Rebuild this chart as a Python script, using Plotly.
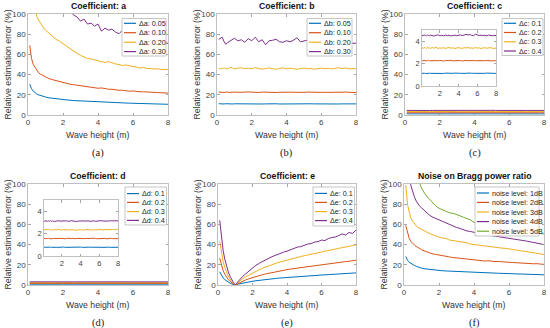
import plotly.graph_objects as go

# ---------------- data ----------------
wave_height = [0.1, 0.2, 0.3, 0.4, 0.5, 0.6, 0.7, 0.8, 0.9, 1.0,
               1.2, 1.4, 1.6, 1.8, 2.0, 2.2, 2.4, 2.6, 2.8, 3.0,
               3.2, 3.4, 3.6, 3.8, 4.0, 4.2, 4.4, 4.6, 4.8, 5.0,
               5.2, 5.4, 5.6, 5.8, 6.0, 6.2, 6.4, 6.6, 6.8, 7.0,
               7.2, 7.4, 7.6, 7.8, 8.0]

# Coefficient a
a_005 = [30.5, 26.0, 23.6, 22.0, 20.8, 20.0, 19.3, 18.7, 18.2, 17.8,
         17.0, 16.5, 16.0, 15.5, 15.1, 14.8, 14.6, 14.3, 14.1, 13.8,
         13.6, 13.4, 13.2, 13.0, 12.8, 12.7, 12.5, 12.4, 12.3, 12.1,
         12.0, 11.9, 11.8, 11.7, 11.6, 11.5, 11.4, 11.3, 11.2, 11.1,
         11.0, 10.9, 10.8, 10.7, 10.6]
a_010 = [69.0, 56.0, 50.0, 47.0, 44.0, 42.0, 40.5, 39.5, 38.5, 37.5,
         36.0, 35.0, 34.0, 33.0, 32.0, 31.5, 30.5, 30.0, 29.5, 29.5,
         28.5, 28.0, 28.0, 27.0, 26.5, 26.8, 26.0, 25.5, 25.5, 24.8,
         24.5, 24.5, 24.0, 23.5, 23.8, 23.2, 23.0, 23.0, 22.6, 22.5,
         22.4, 22.2, 22.0, 22.0, 21.7]
a_020 = [150, 130, 118, 106, 98, 94, 91, 88, 86, 84,
         81, 78, 75, 73, 70.5, 68, 66, 63, 61, 59,
         57.5, 56, 55.5, 54.5, 53.5, 53, 52, 53, 51.5, 50.5,
         50, 49, 49.5, 48.5, 48, 47.5, 46.5, 47, 46, 46,
         45.5, 45.8, 45, 45.2, 45]
a_030 = [220, 200, 188, 178, 170, 163, 157, 152, 147, 143,
         135, 128, 122, 117, 112, 108, 104, 99, 97, 93,
         95, 90, 91, 88, 90, 83, 86, 84, 85, 82,
         80.5, 84, 79, 80, 77, 76, 75.5, 77, 74, 75,
         73.5, 74, 72, 71.5, 71]

# Coefficient b
b_005 = [11.2, 11.0, 11.1, 10.9, 11.2, 11.0, 11.1, 11.0, 10.9, 11.1,
         11.0, 11.2, 11.0, 10.9, 11.1, 11.0, 11.1, 10.9, 11.0, 11.2,
         11.0, 11.1, 10.9, 11.0, 11.1, 11.0, 11.2, 11.0, 10.9, 11.1,
         11.0, 11.1, 11.0, 10.9, 11.1, 11.0, 11.2, 11.0, 11.1, 10.9,
         11.0, 11.1, 11.0, 11.1, 11.0]
b_010 = [22.6, 22.3, 22.7, 22.4, 22.5, 22.8, 22.3, 22.6, 22.4, 22.7,
         22.5, 22.3, 22.6, 22.8, 22.4, 22.5, 22.3, 22.7, 22.5, 22.4,
         22.6, 22.3, 22.5, 22.7, 22.4, 22.6, 22.5, 22.3, 22.6, 22.4,
         22.7, 22.5, 22.3, 22.6, 22.4, 22.5, 22.8, 22.4, 22.6, 22.3,
         22.5, 22.7, 22.4, 22.3, 22.2]
b_020 = [45.5, 46.2, 45.8, 46.8, 46.0, 45.5, 46.5, 47.2, 46.3, 45.6,
         46.4, 46.8, 45.9, 46.3, 45.7, 46.9, 46.1, 45.4, 46.0, 46.6,
         45.8, 45.3, 46.2, 46.7, 45.6, 46.3, 45.9, 45.2, 46.0, 46.5,
         45.7, 46.1, 45.4, 45.9, 46.4, 45.8, 46.2, 45.6, 46.0, 46.8,
         45.9, 46.5, 45.7, 46.1, 46.0]
b_030 = [75, 76, 77, 73, 70, 71.5, 72.5, 74, 75, 76,
         73.5, 74.5, 72, 75.5, 73.5, 77, 72.5, 74.5, 69.5, 73.5,
         74, 75, 72.5, 72, 73.5, 72.5, 74, 76.5, 72.5, 73,
         74, 72.5, 73.5, 74.5, 73, 74, 72.5, 73.5, 74, 73,
         74.5, 73, 72.5, 71, 71]

# Coefficient c
c_01 = [1.13, 1.15, 1.12, 1.14, 1.11, 1.13, 1.16, 1.12, 1.14, 1.13,
        1.12, 1.15, 1.13, 1.11, 1.14, 1.13, 1.12, 1.15, 1.13, 1.14,
        1.12, 1.13, 1.15, 1.12, 1.14, 1.13, 1.11, 1.14, 1.13, 1.15,
        1.12, 1.14, 1.13, 1.12, 1.15, 1.13, 1.14, 1.12, 1.13, 1.15,
        1.13, 1.12, 1.14, 1.13, 1.12]
c_02 = [2.27, 2.24, 2.29, 2.25, 2.28, 2.23, 2.27, 2.30, 2.25, 2.26,
        2.28, 2.24, 2.27, 2.25, 2.29, 2.26, 2.23, 2.28, 2.25, 2.27,
        2.30, 2.24, 2.26, 2.28, 2.25, 2.27, 2.23, 2.26, 2.29, 2.25,
        2.27, 2.24, 2.28, 2.26, 2.25, 2.29, 2.24, 2.27, 2.26, 2.28,
        2.25, 2.27, 2.24, 2.26, 2.25]
c_03 = [3.42, 3.36, 3.40, 3.45, 3.35, 3.39, 3.44, 3.37, 3.41, 3.36,
        3.43, 3.38, 3.46, 3.35, 3.40, 3.37, 3.42, 3.36, 3.39, 3.44,
        3.37, 3.41, 3.35, 3.40, 3.43, 3.38, 3.36, 3.42, 3.39, 3.45,
        3.37, 3.40, 3.36, 3.44, 3.38, 3.41, 3.35, 3.39, 3.42, 3.37,
        3.40, 3.43, 3.36, 3.39, 3.38]
c_04 = [4.53, 4.48, 4.56, 4.50, 4.52, 4.47, 4.55, 4.51, 4.49, 4.54,
        4.50, 4.46, 4.53, 4.57, 4.49, 4.52, 4.48, 4.55, 4.50, 4.53,
        4.47, 4.51, 4.54, 4.49, 4.52, 4.56, 4.50, 4.53, 4.61, 4.55,
        4.60, 4.52, 4.49, 4.63, 4.58, 4.51, 4.54, 4.50, 4.53, 4.48,
        4.55, 4.51, 4.49, 4.53, 4.50]

# Coefficient d
d_01 = [0.78, 0.79, 0.77, 0.78, 0.80, 0.77, 0.78, 0.79, 0.77, 0.78,
        0.79, 0.78, 0.77, 0.79, 0.78, 0.80, 0.77, 0.78, 0.79, 0.78,
        0.77, 0.79, 0.78, 0.78, 0.80, 0.77, 0.79, 0.78, 0.77, 0.79,
        0.78, 0.79, 0.77, 0.78, 0.80, 0.78, 0.77, 0.79, 0.78, 0.79,
        0.77, 0.78, 0.79, 0.78, 0.78]
d_02 = [1.57, 1.54, 1.58, 1.55, 1.57, 1.59, 1.54, 1.56, 1.58, 1.55,
        1.57, 1.53, 1.56, 1.58, 1.55, 1.57, 1.54, 1.59, 1.56, 1.55,
        1.58, 1.54, 1.57, 1.56, 1.53, 1.58, 1.55, 1.57, 1.54, 1.56,
        1.59, 1.55, 1.57, 1.54, 1.56, 1.58, 1.55, 1.57, 1.53, 1.56,
        1.58, 1.55, 1.54, 1.57, 1.55]
d_03 = [2.36, 2.31, 2.38, 2.33, 2.35, 2.40, 2.32, 2.36, 2.34, 2.30,
        2.37, 2.33, 2.39, 2.35, 2.31, 2.36, 2.34, 2.38, 2.32, 2.35,
        2.33, 2.37, 2.30, 2.34, 2.36, 2.31, 2.35, 2.33, 2.37, 2.32,
        2.30, 2.34, 2.36, 2.33, 2.38, 2.35, 2.32, 2.36, 2.34, 2.31,
        2.35, 2.37, 2.33, 2.39, 2.34]
d_04 = [3.13, 3.10, 3.15, 3.12, 3.09, 3.14, 3.11, 3.16, 3.10, 3.13,
        3.08, 3.12, 3.15, 3.11, 3.13, 3.09, 3.14, 3.12, 3.10, 3.15,
        3.11, 3.13, 3.08, 3.12, 3.14, 3.10, 3.13, 3.11, 3.15, 3.09,
        3.12, 3.14, 3.10, 3.13, 3.11, 3.16, 3.12, 3.10, 3.14, 3.12,
        3.15, 3.11, 3.13, 3.16, 3.12]

# Coefficient e
e_01 = [13.0, 9.3, 7.0, 5.2, 3.8, 2.7, 1.8, 1.05, 0.45, 0.05,
        1.0, 1.8, 2.5, 3.1, 3.7, 4.2, 4.7, 5.1, 5.5, 5.9,
        6.3, 6.6, 6.9, 7.2, 7.5, 7.8, 8.1, 8.3, 8.6, 8.8,
        9.1, 9.3, 9.5, 9.7, 9.9, 10.1, 10.3, 10.5, 10.7, 10.9,
        11.1, 11.3, 11.5, 11.7, 12.0]
e_02 = [26.5, 19.0, 14.0, 10.5, 7.7, 5.4, 3.6, 2.1, 0.9, 0.1,
        2.0, 3.6, 5.0, 6.2, 7.4, 8.4, 9.4, 10.3, 11.1, 11.9,
        12.6, 13.3, 14.0, 14.6, 15.2, 15.8, 16.3, 16.9, 17.4, 17.9,
        18.4, 18.9, 19.3, 19.8, 20.2, 20.6, 21.1, 21.5, 21.9, 22.3,
        22.7, 23.1, 23.5, 23.9, 24.5]
e_03 = [43.5, 31.0, 23.0, 17.0, 12.5, 8.8, 5.8, 3.4, 1.5, 0.1,
        3.2, 5.8, 8.0, 10.0, 12.0, 13.8, 15.3, 16.8, 18.2, 19.5,
        20.6, 21.7, 22.8, 23.8, 24.8, 25.6, 26.5, 27.5, 28.2, 29.0,
        29.8, 30.5, 31.3, 32.0, 32.8, 33.5, 34.0, 34.8, 35.5, 36.3,
        37.0, 37.5, 38.3, 39.0, 39.8]
e_04 = [64.0, 45.0, 34.0, 25.0, 18.5, 13.0, 8.5, 5.0, 2.3, 0.2,
        4.5, 8.0, 11.0, 14.0, 17.0, 19.5, 21.5, 23.5, 25.5, 27.0,
        28.5, 30.0, 31.0, 32.5, 33.5, 35.0, 36.0, 37.5, 38.0, 39.5,
        40.5, 41.0, 42.5, 43.0, 44.5, 44.0, 46.0, 47.0, 47.5, 49.0,
        50.5, 49.5, 52.0, 51.0, 54.5]

# Noise on Bragg power ratio
n_1db = [28.3, 24.5, 22.5, 21.2, 20.2, 19.3, 18.5, 17.8, 17.2, 16.7,
         16.0, 15.5, 15.1, 14.7, 14.4, 14.1, 13.9, 13.7, 13.5, 13.3,
         13.1, 12.9, 12.8, 12.6, 12.5, 12.3, 12.2, 12.1, 12.0, 11.8,
         11.7, 11.6, 11.5, 11.4, 11.3, 11.2, 11.0, 10.9, 10.8, 10.7,
         10.6, 10.5, 10.4, 10.3, 10.1]
n_2db = [59, 51, 46, 43, 41, 39.5, 38.2, 37, 36, 35,
         33.5, 32, 31, 30.3, 29.5, 29, 28.3, 27.8, 27.2, 26.8,
         26.3, 25.5, 25.8, 24.8, 24.5, 24.6, 24.0, 23.8, 24.0, 23.5,
         23.2, 23.3, 22.8, 22.9, 22.5, 22.3, 22.0, 22.2, 21.7, 21.6,
         21.3, 21.0, 21.1, 20.7, 20.4]
n_3db = [99, 80, 72, 66, 63, 60.5, 58.5, 57, 56, 55,
         53, 51.5, 50, 48.5, 47.5, 46.5, 46, 44.5, 44, 43.5,
         43, 42, 41.8, 40.5, 40.0, 39.5, 39.0, 38.8, 38.0, 37.8,
         37.2, 36.9, 36.5, 36.3, 35.8, 35.2, 35.0, 34.3, 34.0, 33.5,
         33.0, 32.3, 31.5, 30.8, 30.0]
n_4db = [150, 125, 108, 98, 92, 87, 83, 80, 78, 76.5,
         73, 70, 67.5, 66, 64, 62.5, 61, 59.5, 58.5, 57,
         56, 54.5, 53.5, 53, 52, 51.5, 50.5, 50, 49.5, 49,
         48.2, 47.5, 47.2, 46.5, 46.5, 45.5, 45, 44.5, 44.2, 43.5,
         42.8, 42, 41.5, 40.8, 40]
n_5db = [220, 185, 165, 150, 138, 128, 118, 106, 100.5, 96,
         90, 86, 82, 78.5, 76, 74.5, 73, 71.5, 71, 70,
         68.5, 67, 66, 64.5, 62, 61, 60, 59, 58.5, 58,
         57.5, 57, 56.5, 56, 55.5, 55, 54.5, 54, 53.5, 53,
         52.5, 52, 52, 51.5, 50.5]

legend_a = ["Δa: 0.05", "Δa: 0.10", "Δa: 0.20", "Δa: 0.30"]
legend_b = ["Δb: 0.05", "Δb: 0.10", "Δb: 0.20", "Δb: 0.30"]
legend_c = ["Δc: 0.1", "Δc: 0.2", "Δc: 0.3", "Δc: 0.4"]
legend_d = ["Δd: 0.1", "Δd: 0.2", "Δd: 0.3", "Δd: 0.4"]
legend_e = ["Δe: 0.1", "Δe: 0.2", "Δe: 0.3", "Δe: 0.4"]
legend_f = ["noise level: 1dB", "noise level: 2dB", "noise level: 3dB",
            "noise level: 4dB", "noise level: 5dB"]
titles = ["Coefficient: a", "Coefficient: b", "Coefficient: c",
          "Coefficient: d", "Coefficient: e", "Noise on Bragg power ratio"]
captions = ["(a)", "(b)", "(c)", "(d)", "(e)", "(f)"]
x_ticks = [0, 2, 4, 6, 8]
y_ticks = [0, 20, 40, 60, 80, 100]
inset_x_ticks = [2, 4, 6, 8]
inset_y_ticks = [0, 2, 4]

COLORS = ["#0072BD", "#D95319", "#EDB120", "#7E2F8E", "#77AC30"]

# ---------------- layout helpers ----------------
W, H = 550, 328
FONT = "Liberation Sans, Arial, Helvetica, sans-serif"
SERIF = "Liberation Serif, Times New Roman, serif"


def fx(p):
    return p / W


def fy(p):
    return 1 - p / H


# (left, right, top, bottom) in pixels
panels = [(28, 168, 14, 115), (217, 356, 14, 115), (405, 544, 14, 115),
          (28, 168, 184, 285), (218, 356, 184, 285), (404, 544, 184, 285)]
insets = [(422, 496, 30, 86), (44, 118, 200, 256)]

series = [
    [a_005, a_010, a_020, a_030],
    [b_005, b_010, b_020, b_030],
    [c_01, c_02, c_03, c_04],
    [d_01, d_02, d_03, d_04],
    [e_01, e_02, e_03, e_04],
    [n_1db, n_2db, n_3db, n_4db, n_5db],
]
legends = [legend_a, legend_b, legend_c, legend_d, legend_e, legend_f]

fig = go.Figure()

axstyle = dict(ticks="inside", ticklen=2.5, tickcolor="#909090", tickwidth=0.8,
               showline=True, linecolor="#b0b0b0", linewidth=0.8, mirror="ticks",
               showgrid=False, zeroline=False, fixedrange=True,
               tickfont=dict(size=8, color="#404040", family=FONT))
insetstyle = dict(axstyle)
insetstyle["tickfont"] = dict(size=7.5, color="#404040", family=FONT)

layout = {}
for i, (xl, xr, yt, yb) in enumerate(panels, start=1):
    s = "" if i == 1 else str(i)
    layout["xaxis" + s] = dict(domain=[fx(xl), fx(xr)], anchor="y" + s,
                               range=[0, 8], tickvals=x_ticks, **axstyle)
    layout["yaxis" + s] = dict(domain=[fy(yb), fy(yt)], anchor="x" + s,
                               range=[0, 100], tickvals=y_ticks, **axstyle)
for j, (xl, xr, yt, yb) in enumerate(insets, start=7):
    s = str(j)
    layout["xaxis" + s] = dict(domain=[fx(xl), fx(xr)], anchor="y" + s,
                               range=[0.1, 8], tickvals=inset_x_ticks, **insetstyle)
    layout["yaxis" + s] = dict(domain=[fy(yb), fy(yt)], anchor="x" + s,
                               range=[0, 5], tickvals=inset_y_ticks, **insetstyle)


def add_series(data, axis_no):
    s = "" if axis_no == 1 else str(axis_no)
    for k, vals in enumerate(data):
        fig.add_trace(go.Scatter(x=wave_height, y=vals, mode="lines",
                                 line=dict(color=COLORS[k], width=1),
                                 xaxis="x" + s, yaxis="y" + s,
                                 showlegend=False, hoverinfo="skip"))


for i, data in enumerate(series, start=1):
    add_series(data, i)
add_series(series[2], 7)
add_series(series[3], 8)

annotations = []
shapes = []

# titles, axis titles, captions
for i, (xl, xr, yt, yb) in enumerate(panels):
    cx = (xl + xr) / 2
    annotations.append(dict(x=fx(cx), y=fy(yt - 8), xref="paper", yref="paper",
                            text="<b>" + titles[i] + "</b>", showarrow=False,
                            xanchor="center", yanchor="middle",
                            font=dict(size=8.7, color="#111", family=FONT)))
    annotations.append(dict(x=fx(cx), y=fy(yb + 19.5), xref="paper", yref="paper",
                            text="Wave height (m)", showarrow=False,
                            xanchor="center", yanchor="middle",
                            font=dict(size=8.7, color="#333", family=FONT)))
    annotations.append(dict(x=fx(cx), y=fy(yb + 38), xref="paper", yref="paper",
                            text=captions[i], showarrow=False,
                            xanchor="center", yanchor="middle",
                            font=dict(size=10.5, color="#222", family=SERIF)))
    annotations.append(dict(x=fx(xl - 21), y=fy((yt + yb) / 2), xref="paper", yref="paper",
                            text="Relative estimation error (%)", showarrow=False,
                            textangle=-90, xanchor="center", yanchor="middle",
                            font=dict(size=8.7, color="#333", family=FONT)))

# legends: (x0, x1, y0, y1, entry y positions)
legend_boxes = [
    (122, 166, 18.5, 56, [23.3, 32.7, 42.2, 51.6]),
    (307, 352, 18.5, 56, [23.3, 32.7, 42.2, 51.6]),
    (502, 543, 18.5, 55.5, [23.3, 32.5, 41.8, 51.0]),
    (125, 166.5, 187, 225, [193.6, 202.4, 211.6, 220.4]),
    (313, 354.5, 187, 226, [193.4, 202.4, 211.6, 220.6]),
    (475, 539, 187, 236, [193.0, 202.4, 212.0, 221.6, 231.2]),
]
for i, (x0, x1, y0, y1, ys) in enumerate(legend_boxes):
    shapes.append(dict(type="rect", xref="paper", yref="paper",
                       x0=fx(x0), x1=fx(x1), y0=fy(y1), y1=fy(y0),
                       fillcolor="white", line=dict(color="#b8b8b8", width=0.8),
                       layer="above"))
    for k, (lab, yy) in enumerate(zip(legends[i], ys)):
        shapes.append(dict(type="line", xref="paper", yref="paper",
                           x0=fx(x0 + 2), x1=fx(x0 + 14), y0=fy(yy), y1=fy(yy),
                           line=dict(color=COLORS[k], width=1.2), layer="above"))
        annotations.append(dict(x=fx(x0 + 14.5), y=fy(yy), xref="paper", yref="paper",
                                text=lab, showarrow=False, xanchor="left",
                                yanchor="middle",
                                font=dict(size=7.2, color="#222", family=FONT)))

fig.update_layout(
    width=W, height=H, margin=dict(l=0, r=0, t=0, b=0),
    template="none", paper_bgcolor="white", plot_bgcolor="white",
    font=dict(family=FONT), showlegend=False,
    annotations=annotations, shapes=shapes, **layout)

fig.write_html("out.html", config={"displayModeBar": False, "staticPlot": True},
               post_script="document.body.style.margin='0';document.body.style.overflow='hidden';")
